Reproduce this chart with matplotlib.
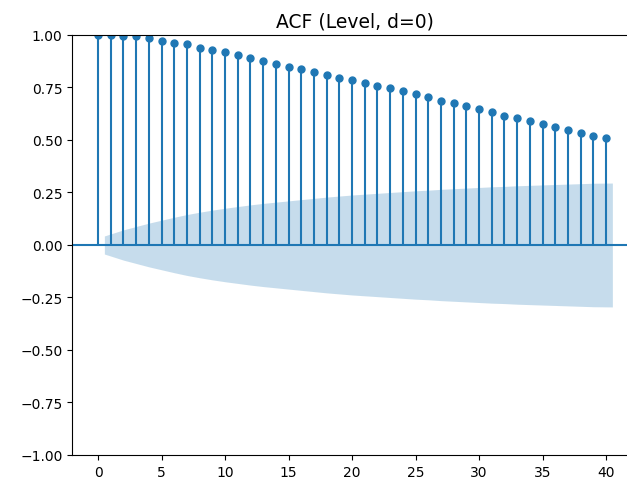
import numpy as np
import matplotlib
matplotlib.use("Agg")
import matplotlib.pyplot as plt

lags = list(range(0, 41))
acf_values = [1.000, 0.998, 0.997, 0.994, 0.984, 0.973, 0.962, 0.956, 0.940, 0.930,
              0.919, 0.905, 0.892, 0.876, 0.863, 0.849, 0.838, 0.822, 0.811, 0.795,
              0.784, 0.770, 0.759, 0.748, 0.732, 0.719, 0.703, 0.687, 0.676, 0.660,
              0.649, 0.633, 0.616, 0.605, 0.590, 0.575, 0.563, 0.548, 0.535, 0.520,
              0.510]
# half-width of the confidence band for lags 1..40
band_halfwidth = [0.043, 0.072, 0.088, 0.104, 0.118, 0.132, 0.145, 0.156, 0.166, 0.175,
                  0.183, 0.191, 0.198, 0.204, 0.210, 0.216, 0.222, 0.228, 0.233, 0.238,
                  0.242, 0.246, 0.250, 0.254, 0.258, 0.261, 0.265, 0.268, 0.271, 0.274,
                  0.277, 0.279, 0.282, 0.284, 0.286, 0.288, 0.290, 0.292, 0.294, 0.295]
title = "ACF (Level, d=0)"

fig = plt.figure(figsize=(6.27, 4.81), dpi=100)
ax = fig.add_axes([0.1153, 0.052, 0.9024, 0.8732])

x = np.array(lags, dtype=float)
y = np.array(acf_values)
ax.vlines(x, [0], y, color="C0")
ax.axhline(0, color="C0")
ax.plot(x, y, marker="o", markersize=5, linestyle="None", color="C0")

bx = x[1:].copy()
bx[0] -= 0.5
bx[-1] += 0.5
hw = np.array(band_halfwidth)
ax.fill_between(bx, -hw, hw, alpha=0.25, color="C0", linewidth=0)

ax.set_xlim(-2.025, 42.525)
ax.set_ylim(-1, 1)
ax.set_title(title, fontsize=13.5)

fig.savefig("out.png", dpi=100)
